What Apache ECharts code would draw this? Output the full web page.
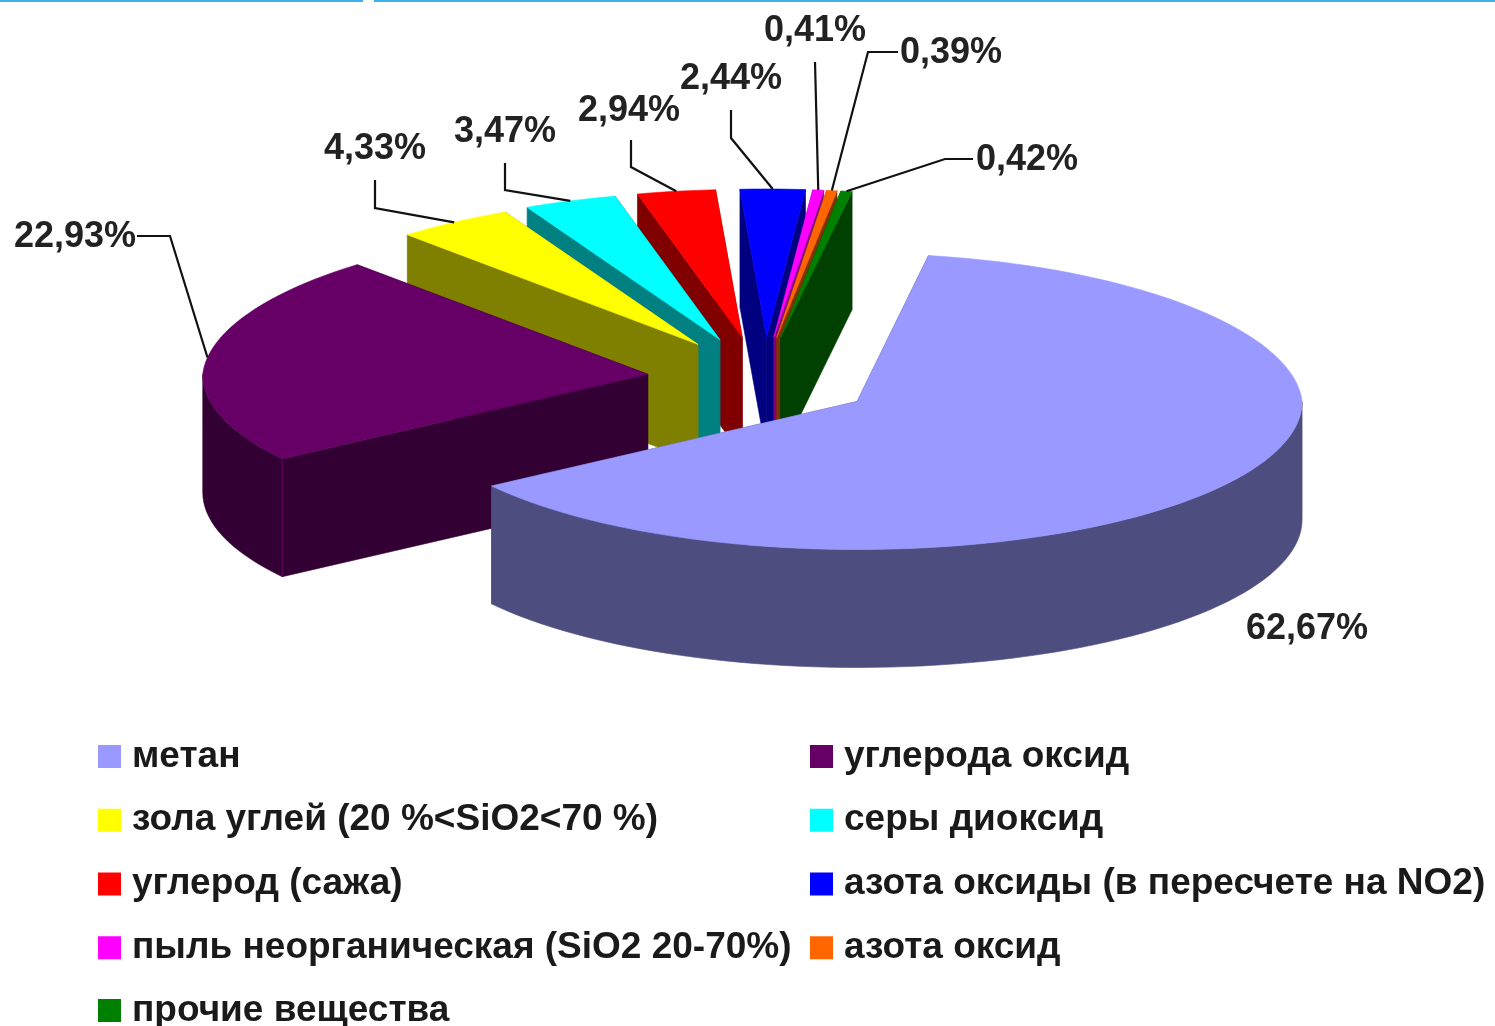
<!DOCTYPE html>
<html><head><meta charset="utf-8">
<style>html,body{margin:0;padding:0;background:#fff}#c{width:1495px;height:1026px;filter:blur(0.6px)}</style>
<script src="https://cdn.jsdelivr.net/npm/echarts@6/dist/echarts.min.js"></script>
</head><body><div id="c"></div>
<script>
const categories = ['метан','углерода оксид','зола углей (20 %<SiO2<70 %)','серы диоксид','углерод (сажа)','азота оксиды (в пересчете на NO2)','пыль неорганическая (SiO2 20-70%)','азота оксид','прочие вещества'];
const values = [62.67,22.93,4.33,3.47,2.94,2.44,0.41,0.39,0.42];
const topColors = ['#9999ff','#660066','#ffff00','#00ffff','#ff0000','#0000ff','#ff00ff','#ff6600','#008000'];
const wallColors = ['#4d4d80','#330033','#808000','#008080','#800000','#000080','#800080','#803300','#004000'];
const legendLeft = [0,2,4,6];
const legendRight = [1,3,5,7];
const legendLast = [8];
// label centre and leader elbow/start points (layout only)
const labelPos = [[1307,629],[75,237],[375,149],[505,132],[629,111],[731,79],[815,31],[951,53],[1027,160]];
const leaderPts = [[],[[137,236],[170,236]],[[375,180],[375,208]],[[505,163],[505,190]],[[631,140],[631,167]],[[731,110],[731,138]],[[815,62]],[[898,52],[868,52]],[[973,159],[945,159]]];
// per-slice nudge of the explosion, like a per-point explosion setting
const nudgeX = [0,2,3,0,0,5,2,2,3];

const L = {cx:760, cy:379, rx:445, backShrink:17, ry:148, depth:118, exX:115, exY:42, start:9.6};
const rad = d => d*Math.PI/180;
const total = values.reduce((a,b)=>a+b,0);
let acc = L.start;
const spans = values.map(v=>{const s=acc; acc+=v/total*360; return [s,acc];});
const rankOrder = spans.map((s,i)=>[Math.cos(rad((s[0]+s[1])/2)),i]).sort((a,b)=>b[0]-a[0]).map(x=>x[1]);

function renderSlice(i){
  return function(params, api){
    const v = api.value(0);
    const [s,e] = spans[i];
    const m = (s+e)/2;
    const ax = L.cx + L.exX*Math.sin(rad(m)) + nudgeX[i];
    const ay = L.cy - L.exY*Math.cos(rad(m));
    const pt = (a,dy=0)=>{
      const c=Math.cos(rad(a));
      const rx=L.rx-L.backShrink*Math.max(0,c);
      return [ax+rx*Math.sin(rad(a)), ay-L.ry*c+dy];
    };
    const arc = (a0,a1,dy=0)=>{const n=Math.max(2,Math.ceil((a1-a0)/2));const out=[];for(let k=0;k<=n;k++)out.push(pt(a0+(a1-a0)*k/n,dy));return out;};
    const poly = (pts,fill)=>({type:'polygon',shape:{points:pts},style:{fill,stroke:fill,lineWidth:0.6}});
    const children = [];
    const P=[ax,ay], Pd=[ax,ay+L.depth];
    children.push(poly([P,pt(s),pt(s,L.depth),Pd],wallColors[i]));
    children.push(poly([P,pt(e),pt(e,L.depth),Pd],wallColors[i]));
    const lo=Math.max(s,90), hi=Math.min(e,270);
    if(lo<hi){
      children.push(poly(arc(lo,hi).concat(arc(lo,hi,L.depth).reverse()),wallColors[i]));
      if(lo===s){children.push({type:'polyline',shape:{points:[pt(s),pt(s,L.depth)]},style:{stroke:topColors[i],lineWidth:1,fill:null}});}
    }
    children.push(poly([P].concat(arc(s,e)),topColors[i]));
    if(leaderPts[i].length){
      children.push({type:'polyline',shape:{points:leaderPts[i].concat([pt(m)])},style:{stroke:'#111',lineWidth:2.2,fill:null}});
    }
    children.push({type:'text',style:{text:v.toFixed(2).replace('.',',')+'%',x:labelPos[i][0],y:labelPos[i][1],align:'center',verticalAlign:'middle',font:'bold 36px "Liberation Sans"',fill:'#222'}});
    return {type:'group',children};
  };
}

const series = categories.map((name,i)=>({
  type:'custom',name,coordinateSystem:'none',silent:true,animation:false,
  z:2+rankOrder.indexOf(i),
  itemStyle:{color:topColors[i]},
  data:[[values[i]]],
  renderItem:renderSlice(i)
}));
const legendBase = {orient:'vertical',top:738,icon:'rect',itemWidth:23,itemHeight:23,itemGap:26.75,selectedMode:false,
  textStyle:{fontFamily:'Liberation Sans',fontWeight:'bold',fontSize:37,color:'#1a1a1a',padding:[0,0,0,6]},padding:0};
const chart = echarts.init(document.getElementById('c'));
chart.setOption({
  backgroundColor:'#fff',animation:false,
  legend:[
    Object.assign({},legendBase,{left:98,data:legendLeft.map(i=>categories[i])}),
    Object.assign({},legendBase,{left:810,data:legendRight.map(i=>categories[i])}),
    Object.assign({},legendBase,{left:98,top:992,data:legendLast.map(i=>categories[i])})
  ],
  graphic:[
    {type:'rect',shape:{x:0,y:0,width:363,height:2},style:{fill:'#3fb0ef'}},
    {type:'rect',shape:{x:374,y:0,width:1121,height:2},style:{fill:'#3fb0ef'}}
  ],
  series
});
</script></body></html>
